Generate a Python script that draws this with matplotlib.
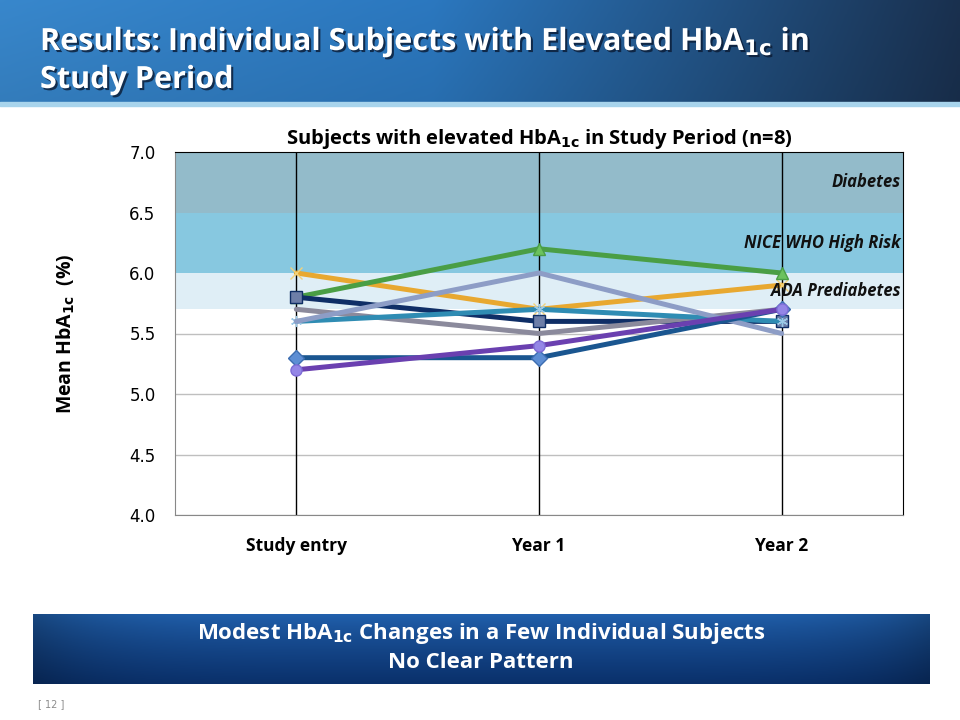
"""
plot.py
Individual subjects with elevated HbA1c in the study period (n=8).
"""

import matplotlib
matplotlib.use("Agg")
import matplotlib.pyplot as plt
import matplotlib.patheffects as pe
import numpy as np

# ── Data ──────────────────────────────────────────────────────────────────────
categories = ["Study entry", "Year 1", "Year 2"]

orange   = [6.0, 5.7, 5.9]
green    = [5.8, 6.2, 6.0]
navy     = [5.8, 5.6, 5.6]
gray     = [5.7, 5.5, 5.7]
teal     = [5.6, 5.7, 5.6]
lavender = [5.6, 6.0, 5.5]
blue     = [5.3, 5.3, 5.7]
purple   = [5.2, 5.4, 5.7]

y_ticks = [4.0, 4.5, 5.0, 5.5, 6.0, 6.5, 7.0]

# risk bands: (low, high, label)
band_low    = [6.5, 6.0, 5.7]
band_high   = [7.0, 6.5, 6.0]
band_labels = ["Diabetes", "NICE WHO High Risk", "ADA Prediabetes"]

# ── Style ─────────────────────────────────────────────────────────────────────
SANS = ["Open Sans", "DejaVu Sans"]
BAND_COLORS = ["#93BBCA", "#87C8E0", "#DFEEF6"]

series = [
    # values, line colour, marker, marker face, marker edge
    (orange,   "#E8A830", "x", "#F2D27A", "#F2D27A"),
    (green,    "#4A9E45", "^", "#6CC25E", "#4A9E45"),
    (navy,     "#0F2E66", "s", "#6D7EA8", "#0F2E66"),
    (gray,     "#8B8A9C", None, None, None),
    (teal,     "#2F8CB3", (6, 2, 0), "#9CC8E6", "#9CC8E6"),
    (lavender, "#8D9DC6", None, None, None),
    (blue,     "#1A5690", "D", "#5D8ED4", "#3C6DB0"),
    (purple,   "#6A40B0", "o", "#9486E6", "#7E6CD6"),
]

plt.rcParams["font.family"] = ["DejaVu Sans"]
plt.rcParams["mathtext.fontset"] = "dejavusans"

fig = plt.figure(figsize=(9.6, 7.2), dpi=100)
fig.patch.set_facecolor("white")

# ── Slide decoration (pixel coordinates) ─────────────────────────────────────
bg = fig.add_axes([0, 0, 1, 1], zorder=-10)
bg.set_xlim(0, 960)
bg.set_ylim(720, 0)
bg.axis("off")

# header gradient
gx = np.linspace(0, 1, 256)
gy = np.linspace(0, 1, 64)[:, None]
left = np.array([0.22, 0.53, 0.80])
mid = np.array([0.17, 0.47, 0.75])
right = np.array([0.10, 0.19, 0.31])
t = gx[None, :] * np.ones_like(gy)
w = np.clip((t - 0.45) / 0.55, 0, 1)[..., None]
header = (1 - w) * (left + (mid - left) * np.clip(t / 0.45, 0, 1)[..., None]) + w * right
header = header * (0.92 + 0.08 * (1 - gy))[..., None]
bg.imshow(header, extent=[0, 960, 102, 0], aspect="auto", zorder=0)
bg.fill_between([0, 960], 102, 106, color="#A8D4EC", zorder=1)

title_fx = [pe.withSimplePatchShadow(offset=(1.5, -1.5), shadow_rgbFace="#0A1A33",
                                     alpha=0.8)]
bg.text(40, 50, r"Results: Individual Subjects with Elevated HbA$_{\mathbf{1c}}$ in",
        color="white", fontsize=22, fontweight="bold", family=SANS,
        va="baseline", ha="left", path_effects=title_fx)
bg.text(40, 88, "Study Period", color="white", fontsize=22, fontweight="bold",
        family=SANS, va="baseline", ha="left", path_effects=title_fx)

# bottom box gradient
by = np.linspace(0, 1, 64)[:, None]
bx = np.linspace(0, 1, 256)[None, :]
top_c = np.array([0.13, 0.38, 0.68])
bot_c = np.array([0.04, 0.19, 0.42])
box = top_c + (bot_c - top_c) * by[..., None] ** 0.8
edge = 1 - 0.25 * (np.abs(bx - 0.5) * 2) ** 6
box = box * edge[..., None]
bg.imshow(box, extent=[33, 930, 684, 614], aspect="auto", zorder=0)
bg.text(481, 633, r"Modest HbA$_{\mathbf{1c}}$ Changes in a Few Individual Subjects",
        color="white", fontsize=16, fontweight="bold", family=SANS,
        ha="center", va="center")
bg.text(481, 663, "No Clear Pattern", color="white", fontsize=16,
        fontweight="bold", family=SANS, ha="center", va="center")
bg.text(38, 704, "[ 12 ]", color="#8C8C8C", fontsize=7, ha="left", va="center")

# ── Chart ─────────────────────────────────────────────────────────────────────
ax = fig.add_axes([175 / 960, 1 - 515 / 720, 728 / 960, 363 / 720])
x = np.arange(len(categories))

# horizontal gridlines sit under the risk bands
ax.hlines(y_ticks, -0.5, 2.5, color="#BFBFBF", lw=1.0, zorder=0.3)
for lo, hi, col in zip(band_low, band_high, BAND_COLORS):
    ax.axhspan(lo, hi, color=col, lw=0, zorder=0.5)

for vals, col, mk, mfc, mec in series:
    ax.plot(x, vals, color=col, lw=3.6, marker=mk, markersize=8,
            markerfacecolor=mfc, markeredgecolor=mec, markeredgewidth=1.0,
            zorder=3, solid_capstyle="round")

for lo, hi, lab in zip(band_low, band_high, band_labels):
    ax.text(2.49, (lo + hi) / 2, lab, ha="right", va="center", fontsize=12,
            fontweight="bold", style="italic", family=SANS, color="#111111",
            zorder=4)

ax.set_xlim(-0.5, 2.5)
ax.set_ylim(4.0, 7.0)
ax.set_yticks(y_ticks)
ax.set_yticklabels([f"{v:.1f}" for v in y_ticks], fontsize=12)
ax.set_xticks(x)
ax.set_xticklabels(categories, fontsize=12.5, fontweight="bold", family=SANS)
ax.tick_params(length=0)
ax.tick_params(axis="y", pad=14)
ax.tick_params(axis="x", pad=16)

ax.grid(axis="x", color="black", lw=1.0)

ax.spines["left"].set_color("#888888")
ax.spines["bottom"].set_color("#888888")
ax.spines["top"].set_color("black")
ax.spines["right"].set_color("black")

ax.set_title(r"Subjects with elevated HbA$_{\mathbf{1c}}$ in Study Period (n=8)",
             fontsize=14.5, fontweight="bold", family=SANS, pad=6)
ax.set_ylabel(r"Mean HbA$_{\mathbf{1c}}$  (%)", fontsize=14, fontweight="bold",
              family=SANS, labelpad=38)

fig.savefig("out.png", dpi=100)
